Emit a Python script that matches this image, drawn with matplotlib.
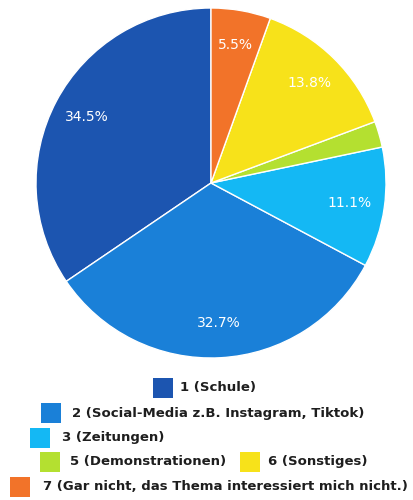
import matplotlib.pyplot as plt
from matplotlib.patches import Rectangle

labels = ["1 (Schule)",
          "2 (Social-Media z.B. Instagram, Tiktok)",
          "3 (Zeitungen)",
          "5 (Demonstrationen)",
          "6 (Sonstiges)",
          "7 (Gar nicht, das Thema interessiert mich nicht.)"]
shares = [34.5, 32.7, 11.1, 2.4, 13.8, 5.5]
colors = ["#1c55b0", "#1a80d8", "#14b8f4", "#b4e030", "#f7e21a", "#f27329"]

W, H = 413, 500
fig = plt.figure(figsize=(W / 100, H / 100), dpi=100)

# pie centred at (211, 183) px, radius 175 px
cx, cy, r = 211, 183, 175
ax = fig.add_axes([(cx - r) / W, (H - cy - r) / H, 2 * r / W, 2 * r / H])


def pct(p):
    return f"{p:.1f}%" if p > 3 else ""


wedges, texts, autotexts = ax.pie(
    shares, colors=colors, startangle=90, counterclock=True,
    autopct=pct, pctdistance=0.8,
    wedgeprops=dict(edgecolor="white", linewidth=1),
    textprops=dict(color="white", fontsize=10))
ax.set_xlim(-1, 1)
ax.set_ylim(-1, 1)
ax.set_aspect("equal")
ax.axis("off")

# legend rows laid out like the source (flowing, not a grid)
rows = [
    [(0, 153, 180)],
    [(1, 41, 72)],
    [(2, 30, 62)],
    [(3, 40, 70), (4, 240, 268)],
    [(5, 10, 43)],
]
row_y = [388, 413, 438, 462, 487]
sw = 20
for items, y in zip(rows, row_y):
    for idx, x_sw, x_txt in items:
        fig.patches.append(Rectangle((x_sw / W, (H - y - sw / 2) / H), sw / W, sw / H,
                                     transform=fig.transFigure, facecolor=colors[idx],
                                     edgecolor="none"))
        fig.text(x_txt / W, (H - y) / H, labels[idx], fontsize=9.5,
                 fontweight="semibold", color="#1e1e1e", ha="left", va="center")

fig.savefig("out.png", dpi=100, facecolor="white")
